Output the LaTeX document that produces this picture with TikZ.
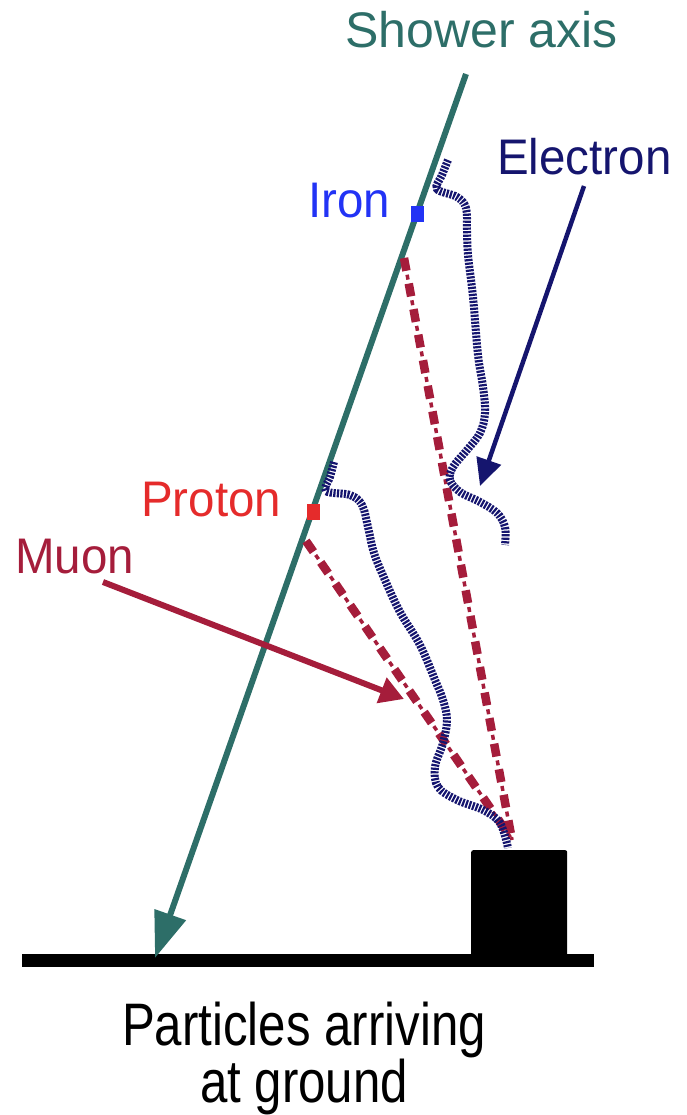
\documentclass[tikz,border=0pt]{standalone}
\usepackage{fontspec}
\setmainfont{Liberation Sans}
\usetikzlibrary{arrows.meta}
\definecolor{axisteal}{HTML}{2D6E68}
\definecolor{ironblue}{HTML}{2233F5}
\definecolor{protonred}{HTML}{E52B2B}
\definecolor{muoncrimson}{HTML}{A51D3B}
\definecolor{electronnavy}{HTML}{15156E}
\tikzset{
  lbl/.style={inner sep=0pt, anchor=base west, font=\fontsize{50}{60}\selectfont},
  caption/.style={inner sep=0pt, align=center, font=\fontsize{60}{47}\selectfont},
  marker/.style={inner sep=0pt, minimum width=13pt, minimum height=16pt},
  muonthick/.style={muoncrimson, line width=8.5pt, dash pattern=on 13pt off 13pt},
  muonthin/.style={muoncrimson, line width=3.5pt, dash pattern=on 0pt off 17pt on 5pt off 4pt},
  hatch/.style={electronnavy, line width=8pt, dash pattern=on 2.2pt off 1.3pt},
}
\begin{document}
\begin{tikzpicture}[x=1pt,y=-1pt]
\useasboundingbox (0,0) rectangle (686,1115);
% coordinates
\coordinate (axtop) at (466,74);
\coordinate (axtip) at (155,958);
\coordinate (gl) at (22,960);
\coordinate (gr) at (594,960);
\coordinate (ironmu) at (404,258);
\coordinate (protmu) at (306,541);
\coordinate (hitA) at (512,840);
\coordinate (hitB) at (511,838);
\coordinate (mutail) at (103,582);
\coordinate (mutip) at (404,699);
\coordinate (etail) at (584,186);
\coordinate (etip) at (480,486);
% ground and detector
\draw[line width=13pt] (gl) -- (gr);
\node[fill=black, rounded corners=2pt, minimum width=96pt, minimum height=110pt, inner sep=0pt, anchor=north west] (detector) at (471,850) {};
% shower axis
\draw[axisteal, line width=6pt, -{Triangle[length=46pt,width=32pt]}] (axtop) -- (axtip);
% muon tracks
\draw[muonthick] (ironmu) -- (hitA);
\draw[muonthin] (ironmu) -- (hitA);
\draw[muonthick] (protmu) -- (hitB);
\draw[muonthin] (protmu) -- (hitB);
% electron tracks
\draw[hatch] plot[smooth, tension=0.6] coordinates {(448,160) (442,175) (437,189) (457,197) (466,208) (467,230) (468,255) (473,297) (478,355) (483,387) (485,413) (480,433) (467,450) (453,467) (450,480) (460,492) (480,502) (497,513) (505,527) (505,545)};
\draw[hatch] plot[smooth, tension=0.6] coordinates {(334,462) (330,477) (326,491) (350,495) (362,505) (368,527) (374,553) (385,580) (400,612) (420,645) (435,680) (443,700) (447,720) (443,743) (435,767) (438,787) (457,800) (483,810) (500,823) (508,848)};
% markers
\node[marker, fill=ironblue] (iron) at (417,214) {};
\node[marker, fill=protonred] (proton) at (313,512) {};
% arrows
\draw[muoncrimson, line width=6pt, -{Triangle[length=24pt,width=26pt]}] (mutail) -- (mutip);
\draw[electronnavy, line width=4.5pt, -{Triangle[length=27pt,width=25pt]}] (etail) -- (etip);
% labels
\node[lbl, text=axisteal] (showerlabel) at (345,48) {Shower axis};
\node[lbl, text=electronnavy] (electronlabel) at (497,175) {\scalebox{0.95}[1]{Electron}};
\node[lbl, text=ironblue] (ironlabel) at (308,218) {\scalebox{0.95}[1]{Iron}};
\node[lbl, text=protonred] (protonlabel) at (141,516) {\scalebox{0.95}[1]{Proton}};
\node[lbl, text=muoncrimson] (muonlabel) at (15,573) {\scalebox{0.95}[1]{Muon}};
\node[caption, anchor=base] (caption) at (304,1102) {\scalebox{0.82}[1]{Particles arriving}\\\scalebox{0.82}[1]{at ground}};
\end{tikzpicture}
\end{document}
